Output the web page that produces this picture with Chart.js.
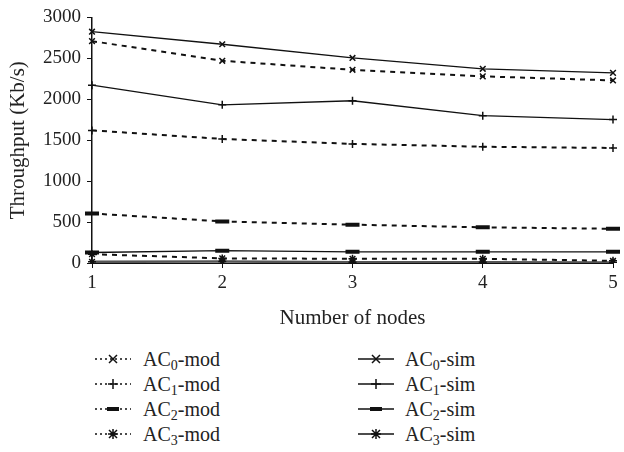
<!DOCTYPE html>
<html>
<head>
<meta charset="utf-8">
<script src="https://cdn.jsdelivr.net/npm/chart.js@4"></script>
<style>
  body{margin:0;background:#fff;font-family:"Liberation Serif","DejaVu Serif",serif;}
  #wrap{position:relative;width:624px;height:452px;}
  #chart-box{position:absolute;left:0;top:0;width:624px;height:335px;}
  .leg{position:absolute;font-size:20px;color:#222;line-height:22px;white-space:nowrap;}
  .leg svg{position:absolute;left:0;top:3px;}
  .leg span{position:absolute;top:0;}
  .leg sub{font-size:14px;vertical-align:-4px;line-height:0;}
</style>
</head>
<body>
<div id="wrap">
  <div id="chart-box"><canvas id="c"></canvas></div>
  <div id="legend"></div>
</div>
<script>
const NODES = ['1','2','3','4','5'];
const Y_TICKS = [0, 500, 1000, 1500, 2000, 2500, 3000];

const AC0_MOD = [2710, 2470, 2360, 2280, 2230];
const AC1_MOD = [1620, 1515, 1455, 1420, 1405];
const AC2_MOD = [605, 508, 468, 436, 418];
const AC3_MOD = [108, 56, 52, 52, 26];

const AC0_SIM = [2825, 2672, 2505, 2372, 2322];
const AC1_SIM = [2172, 1932, 1982, 1800, 1752];
const AC2_SIM = [128, 150, 136, 136, 136];
const AC3_SIM = [14, 18, 10, 10, 6];

const SERIES = [
  {name:'AC', sub:'0', kind:'mod', data:AC0_MOD, pt:'crossRot'},
  {name:'AC', sub:'1', kind:'mod', data:AC1_MOD, pt:'cross'},
  {name:'AC', sub:'2', kind:'mod', data:AC2_MOD, pt:'line'},
  {name:'AC', sub:'3', kind:'mod', data:AC3_MOD, pt:'star'},
  {name:'AC', sub:'0', kind:'sim', data:AC0_SIM, pt:'crossRot'},
  {name:'AC', sub:'1', kind:'sim', data:AC1_SIM, pt:'cross'},
  {name:'AC', sub:'2', kind:'sim', data:AC2_SIM, pt:'line'},
  {name:'AC', sub:'3', kind:'sim', data:AC3_SIM, pt:'star'}
];

const FONT = '"Liberation Serif","DejaVu Serif",serif';

const datasets = SERIES.map(s => {
  const mod = s.kind === 'mod';
  const isLine = s.pt === 'line';
  const color = (!mod && s.sub === '3') ? '#555' : '#111';
  return {
    label: s.name + s.sub + '-' + s.kind,
    data: s.data,
    borderColor: color,
    backgroundColor: color,
    borderWidth: mod ? 2 : (s.sub === '3' ? 2.5 : 1.3),
    borderDash: mod ? [5, 5] : [],
    pointStyle: s.pt,
    pointRadius: isLine ? 7 : 4,
    pointBorderWidth: isLine ? 4 : 1.5,
    pointBorderColor: '#111',
    pointBackgroundColor: '#111',
    tension: 0,
    fill: false
  };
});

new Chart(document.getElementById('c'), {
  type: 'line',
  data: { labels: NODES, datasets },
  options: {
    responsive: true,
    maintainAspectRatio: false,
    animation: false,
    layout: { padding: { left: 0, right: 7, top: 10, bottom: 0 } },
    plugins: { legend: { display: false }, tooltip: { enabled: false } },
    scales: {
      x: {
        offset: false,
        grid: { display: true, drawOnChartArea: false, drawTicks: true, tickLength: 5, color: '#111' },
        border: { display: true, color: '#111', width: 1 },
        ticks: { color: '#222', font: { family: FONT, size: 19 }, padding: 4, maxRotation: 0 },
        title: { display: true, text: 'Number of nodes', color: '#222', font: { family: FONT, size: 21 }, padding: { top: 9 } },
        afterFit: sc => { sc.height = 72; }
      },
      y: {
        min: 0, max: 3000,
        afterBuildTicks: sc => { sc.ticks = Y_TICKS.map(v => ({ value: v })); },
        grid: { display: true, drawOnChartArea: false, drawTicks: true, tickLength: 5, color: '#111' },
        border: { display: true, color: '#111', width: 1.5 },
        ticks: { color: '#222', font: { family: FONT, size: 19 }, padding: 6, callback: v => String(v) },
        title: { display: true, text: 'Throughput (Kb/s)', color: '#222', font: { family: FONT, size: 21 }, padding: { top: 6, bottom: 0 } },
        afterFit: sc => { sc.width = 92; }
      }
    }
  }
});

// legend (html so the subscripts stay real text)
function markerSvg(s){
  const mod = s.kind === 'mod';
  let line = mod
    ? '<line x1="0" y1="8" x2="36" y2="8" stroke="#111" stroke-width="1.6" stroke-dasharray="2,3"/>'
    : '<line x1="0" y1="8" x2="36" y2="8" stroke="#111" stroke-width="1.3"/>';
  let m = '';
  const cx = 18, cy = 8;
  if(s.pt === 'crossRot') m = `<path d="M${cx-4} ${cy-4}L${cx+4} ${cy+4}M${cx+4} ${cy-4}L${cx-4} ${cy+4}" stroke="#111" stroke-width="1.5"/>`;
  if(s.pt === 'cross') m = `<path d="M${cx-5} ${cy}L${cx+5} ${cy}M${cx} ${cy-5}L${cx} ${cy+5}" stroke="#111" stroke-width="1.5"/>`;
  if(s.pt === 'line') m = `<rect x="${cx-6}" y="${cy-2}" width="12" height="4" fill="#111"/>`;
  if(s.pt === 'star') m = `<path d="M${cx-4} ${cy-4}L${cx+4} ${cy+4}M${cx+4} ${cy-4}L${cx-4} ${cy+4}M${cx} ${cy-5}L${cx} ${cy+5}M${cx-5} ${cy}L${cx+5} ${cy}" stroke="#111" stroke-width="1.5"/>`;
  return `<svg width="36" height="16">${line}${m}</svg>`;
}
const legendEl = document.getElementById('legend');
SERIES.forEach((s, i) => {
  const col = s.kind === 'mod' ? 0 : 1;
  const row = i % 4;
  const d = document.createElement('div');
  d.className = 'leg';
  d.style.left = (col === 0 ? 95 : 358) + 'px';
  d.style.top = (348 + row * 25) + 'px';
  d.innerHTML = markerSvg(s) + `<span style="left:${col === 0 ? 48 : 47}px">${s.name}<sub>${s.sub}</sub>-${s.kind}</span>`;
  legendEl.appendChild(d);
});
</script>
</body>
</html>
